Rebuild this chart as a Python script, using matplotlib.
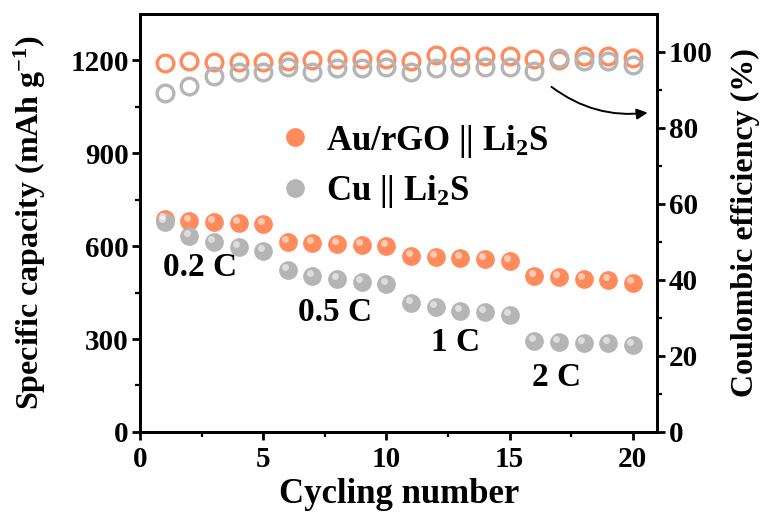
import matplotlib
matplotlib.use('Agg')
import matplotlib.pyplot as plt
from matplotlib.transforms import offset_copy

plt.rcParams['font.family'] = 'Liberation Serif'
plt.rcParams['font.weight'] = 'bold'
plt.rcParams['axes.labelweight'] = 'bold'
plt.rcParams['mathtext.fontset'] = 'custom'
plt.rcParams['mathtext.rm'] = 'Liberation Serif:bold'
plt.rcParams['mathtext.bf'] = 'Liberation Serif:bold'
plt.rcParams['mathtext.default'] = 'rm'

# data
cycles = list(range(1, 21))
cap_au = [688, 682, 679, 675, 671, 613, 610, 606, 603, 600,
          568, 566, 562, 558, 551, 503, 500, 495, 490, 480]
cap_cu = [678, 633, 613, 597, 584, 522, 503, 493, 483, 477,
          415, 402, 392, 386, 377, 295, 290, 288, 287, 282]
ce_au = [97.0, 97.5, 97.3, 97.3, 97.3, 97.7, 97.9, 98.1, 98.2, 98.1,
         97.7, 99.2, 98.9, 98.9, 98.8, 98.1, 97.8, 98.8, 98.8, 98.3]
ce_cu = [89.1, 91.1, 93.7, 94.6, 94.6, 96.1, 94.8, 95.7, 95.7, 96.1,
         94.8, 95.7, 96.0, 96.0, 96.0, 95.1, 98.3, 97.7, 97.5, 96.6]
rate_labels = ['0.2 C', '0.5 C', '1 C', '2 C']
rate_pos = [(2.45, 532), (7.9, 386), (12.8, 289), (16.9, 175)]

orange = '#FF8A5B'
gray = '#B5B5B5'

fig, ax = plt.subplots(figsize=(7.69, 5.16), dpi=100)
fig.subplots_adjust(left=0.182, right=0.855, top=0.973, bottom=0.163)
ax2 = ax.twinx()

# coulombic efficiency (hollow circles)
ax2.plot(cycles, ce_au, 'o', ms=12, mfc='none', mec=orange, mew=2.4)
ax2.plot(cycles, ce_cu, 'o', ms=12, mfc='none', mec=gray, mew=2.4)

# capacity (filled spheres)
ax.plot(cycles, cap_au, 'o', ms=13.5, color=orange, mec='none', zorder=3,
        label='Au/rGO || Li$_2$S')
ax.plot(cycles, cap_cu, 'o', ms=13.5, color=gray, mec='none', zorder=3,
        label='Cu || Li$_2$S')
hl = offset_copy(ax.transData, fig=fig, x=-2.5, y=3, units='dots')
ax.plot(cycles, cap_au, 'o', ms=5, color='white', alpha=0.55, mec='none',
        transform=hl, zorder=4)
ax.plot(cycles, cap_cu, 'o', ms=5, color='white', alpha=0.55, mec='none',
        transform=hl, zorder=4)

for lab, (x, y) in zip(rate_labels, rate_pos):
    ax.text(x, y, lab, fontsize=24, ha='center', va='center')

ax.set_xlim(0, 21)
ax.set_ylim(0, 1350)
ax2.set_ylim(0, 110)
ax.set_xticks([0, 5, 10, 15, 20])
ax.set_xticks([2.5, 7.5, 12.5, 17.5], minor=True)
ax.set_yticks([0, 300, 600, 900, 1200])
ax.set_yticks([150, 450, 750, 1050], minor=True)
ax2.set_yticks([0, 20, 40, 60, 80, 100])
ax2.set_yticks([10, 30, 50, 70, 90], minor=True)

for a in (ax, ax2):
    for s in a.spines.values():
        s.set_linewidth(2)
    a.tick_params(which='major', length=6, width=2, labelsize=21, pad=2)
    a.tick_params(which='minor', length=3.5, width=1.6)
ax.tick_params(axis='x', pad=4)

ax.set_xlabel('Cycling number', fontsize=25, labelpad=4)
ax.set_ylabel('Specific capacity (mAh g$^{-1}$)', fontsize=23, labelpad=16)
ax2.set_ylabel('Coulombic efficiency (%)', fontsize=23, labelpad=13)

ax2.annotate('', xy=(20.6, 84.0), xytext=(16.7, 90.8),
             arrowprops=dict(arrowstyle='-|>', color='black', lw=1.4,
                             mutation_scale=16, shrinkA=0, shrinkB=0,
                             connectionstyle='arc3,rad=0.2'))

leg = ax.legend(loc='upper left', bbox_to_anchor=(0.205, 0.815), frameon=False,
                fontsize=25, handletextpad=0.4, labelspacing=0.4,
                markerscale=1.0, handlelength=1.0)

ax.set_zorder(ax2.get_zorder() + 1)
ax.patch.set_visible(False)

fig.savefig('out.png', dpi=100)
